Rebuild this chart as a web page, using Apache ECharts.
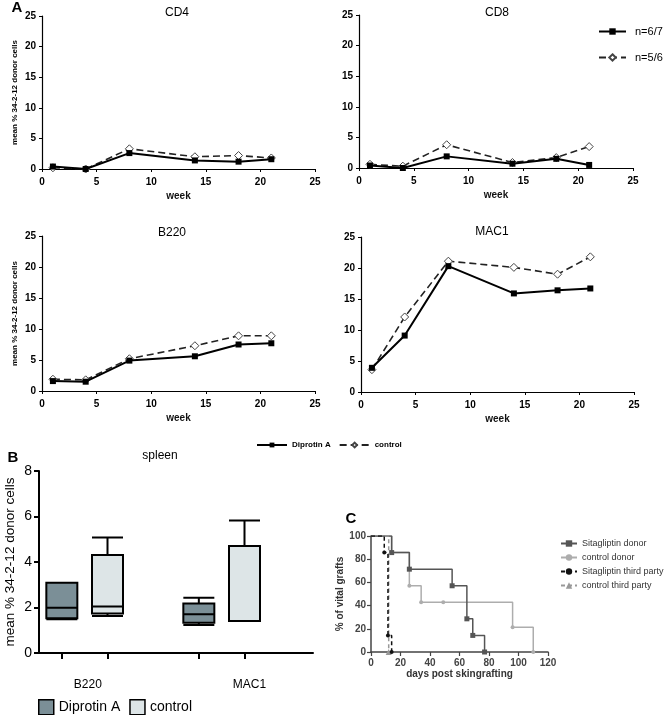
<!DOCTYPE html>
<html><head><meta charset="utf-8">
<script src="https://cdn.jsdelivr.net/npm/echarts@6/dist/echarts.min.js"></script>
<style>html,body{margin:0;padding:0;background:#fff}#c{width:668px;height:715px}</style>
</head><body><div id="c"></div>
<script>
// ---- Panel A data ----
const weeks = [1, 4, 8, 14, 18, 21];
const cd4Dip = [0.4, 0.0, 2.6, 1.4, 1.2, 1.6];
const cd4Ctl = [0.2, 0.0, 3.3, 2.0, 2.2, 1.8];
const cd8Dip = [0.4, 0.0, 1.9, 0.7, 1.5, 0.5];
const cd8Ctl = [0.6, 0.3, 3.8, 0.9, 1.7, 3.5];
const b220Dip = [1.6, 1.5, 4.9, 5.6, 7.5, 7.7];
const b220Ctl = [1.9, 1.8, 5.2, 7.3, 8.9, 8.9];
const mac1Dip = [3.9, 9.1, 20.3, 15.9, 16.4, 16.7];
const mac1Ctl = [3.6, 12.1, 21.1, 20.1, 19.0, 21.8];
const panelTitles = ['CD4', 'CD8', 'B220', 'MAC1'];
// ---- Panel B data (min, Q1, median, Q3, max) ----
const spleenCats = ['B220', 'MAC1'];
const boxDip = [[1.48, 1.53, 1.99, 3.09, 3.09], [1.23, 1.33, 1.70, 2.18, 2.43]];
const boxCtl = [[1.63, 1.74, 2.04, 4.31, 5.08], [1.41, 1.41, 1.41, 4.70, 5.82]];
// ---- Panel C data ([day, % vital grafts]) ----
const sitaDonor = [[0, 100], [14, 85.7], [26, 71.4], [55, 57.1], [65, 28.6], [69, 14.3], [77, 0]];
const ctrlDonor = [[0, 100], [14, 85.7], [26, 57.1], [34, 42.9], [49, 42.9], [96, 21.4], [110, 0]];
const sitaThird = [[0, 100], [9, 85.7], [11.5, 14.3], [14, 0]];
const ctrlThird = [[0, 100], [12, 0]];

const FONT = 'Liberation Sans, Arial, sans-serif';
const chart = echarts.init(document.getElementById('c'), null, {renderer: 'canvas'});

const gridsA = [
  {left: 42, top: 16, width: 273, height: 153},
  {left: 359, top: 15, width: 274, height: 153},
  {left: 42, top: 236, width: 273, height: 155},
  {left: 361, top: 237, width: 273, height: 155}
];
const dataA = [[cd4Dip, cd4Ctl], [cd8Dip, cd8Ctl], [b220Dip, b220Ctl], [mac1Dip, mac1Ctl]];

const grid = gridsA.concat([
  {left: 39, top: 471, width: 274, height: 182},
  {left: 371, top: 536, width: 177, height: 116}
]);

const xAxis = [], yAxis = [], series = [];
gridsA.forEach((g, i) => {
  xAxis.push({
    type: 'value', gridIndex: i, min: 0, max: 25, interval: 5,
    name: 'week', nameLocation: 'middle', nameGap: 22,
    nameTextStyle: {fontFamily: FONT, fontSize: 10, fontWeight: 'bold', color: '#111'},
    axisLine: {lineStyle: {color: '#000', width: 1.2}},
    axisTick: {length: 3, lineStyle: {color: '#000'}},
    axisLabel: {fontFamily: FONT, fontSize: 10, fontWeight: 'bold', color: '#000', margin: 8},
    splitLine: {show: false}
  });
  const showName = (i === 0 || i === 2);
  yAxis.push({
    type: 'value', gridIndex: i, min: 0, max: 25, interval: 5,
    name: showName ? 'mean % 34-2-12 donor cells' : '', nameLocation: 'middle', nameGap: 23,
    nameTextStyle: {fontFamily: FONT, fontSize: 8, fontWeight: 'bold', color: '#000'},
    axisLine: {show: true, lineStyle: {color: '#000', width: 1.2}},
    axisTick: {show: true, length: 3, lineStyle: {color: '#000'}},
    axisLabel: {fontFamily: FONT, fontSize: 10, fontWeight: 'bold', color: '#000', margin: 6},
    splitLine: {show: false}
  });
  const names = (i === 1) ? ['n=6/7', 'n=5/6'] : ['Diprotin A', 'control'];
  series.push({
    type: 'line', name: names[0], xAxisIndex: i, yAxisIndex: i,
    data: weeks.map((w, k) => [w, dataA[i][0][k]]),
    symbol: 'rect', symbolSize: 6, z: 3,
    lineStyle: {color: '#000', width: 2},
    itemStyle: {color: '#000'}
  });
  series.push({
    type: 'line', name: names[1], xAxisIndex: i, yAxisIndex: i,
    data: weeks.map((w, k) => [w, dataA[i][1][k]]),
    symbol: 'diamond', symbolSize: 8, z: 2,
    lineStyle: {color: '#222', width: 1.6, type: [7, 4]},
    itemStyle: {color: '#fff', borderColor: '#444', borderWidth: 1}
  });
});

// Panel B: box plot on 6-slot category axis (boxes at slots 0,1,3,4)
const slotCats = ['0', '1', '2', '3', '4', '5'];
const labelSlot = {0: spleenCats[0], 4: spleenCats[1]};
xAxis.push({
  type: 'category', gridIndex: 4, data: slotCats,
  axisLine: {lineStyle: {color: '#000', width: 2}},
  axisTick: {show: true, alignWithLabel: true, length: 6, lineStyle: {color: '#000', width: 2},
    interval: (idx) => idx !== 2 && idx !== 5},
  axisLabel: {interval: 0, margin: 26, color: '#000', fontFamily: FONT, fontSize: 12,
    formatter: (v, idx) => idx === 0 ? '{a|' + labelSlot[0] + '}' : (idx === 4 ? '{b|' + labelSlot[4] + '}' : ''),
    rich: {a: {fontFamily: FONT, fontSize: 12, color: '#000', padding: [0, 0, 0, 52]},
           b: {fontFamily: FONT, fontSize: 12, color: '#000', padding: [0, 0, 0, 10]}}}
});
yAxis.push({
  type: 'value', gridIndex: 4, min: 0, max: 8, interval: 2,
  name: 'mean % 34-2-12 donor cells', nameLocation: 'middle', nameGap: 22,
  nameTextStyle: {fontFamily: FONT, fontSize: 13.5, color: '#000'},
  axisLine: {show: true, lineStyle: {color: '#000', width: 2}},
  axisTick: {show: true, length: 5, lineStyle: {color: '#000', width: 2}},
  axisLabel: {fontFamily: FONT, fontSize: 14, color: '#000', margin: 7},
  splitLine: {show: false}
});
const dipColor = '#7b8f97', ctlColor = '#dde5e7';
series.push({
  type: 'boxplot', name: 'spleen', xAxisIndex: 4, yAxisIndex: 4,
  boxWidth: [31, 31],
  encode: {x: 0, y: [1, 2, 3, 4, 5]},
  data: [
    {value: [0].concat(boxDip[0]), itemStyle: {color: dipColor, borderColor: '#000', borderWidth: 2}},
    {value: [1].concat(boxCtl[0]), itemStyle: {color: ctlColor, borderColor: '#000', borderWidth: 2}},
    {value: [3].concat(boxDip[1]), itemStyle: {color: dipColor, borderColor: '#000', borderWidth: 2}},
    {value: [4].concat(boxCtl[1]), itemStyle: {color: ctlColor, borderColor: '#000', borderWidth: 2}}
  ]
});

// Panel C: survival
xAxis.push({
  type: 'value', gridIndex: 5, min: 0, max: 120, interval: 20,
  name: 'days post skingrafting', nameLocation: 'middle', nameGap: 17,
  nameTextStyle: {fontFamily: FONT, fontSize: 10, fontWeight: 'bold', color: '#333'},
  axisLine: {lineStyle: {color: '#444', width: 1.5}},
  axisTick: {length: 4, lineStyle: {color: '#444', width: 1.2}},
  axisLabel: {fontFamily: FONT, fontSize: 10, fontWeight: 'bold', color: '#444', margin: 6},
  splitLine: {show: false}
});
yAxis.push({
  type: 'value', gridIndex: 5, min: 0, max: 100, interval: 20,
  name: '% of vital grafts', nameLocation: 'middle', nameGap: 24,
  nameTextStyle: {fontFamily: FONT, fontSize: 10, fontWeight: 'bold', color: '#333'},
  axisLine: {show: true, lineStyle: {color: '#444', width: 1.5}},
  axisTick: {show: true, length: 4, lineStyle: {color: '#444', width: 1.2}},
  axisLabel: {fontFamily: FONT, fontSize: 10, fontWeight: 'bold', color: '#444', margin: 5},
  splitLine: {show: false}
});
function surv(name, pts, color, symbol, size, dashed, z) {
  return {
    type: 'line', name: name, xAxisIndex: 5, yAxisIndex: 5, step: 'end', z: z,
    data: pts.map((p, i) => i === 0 ? {value: p, symbol: 'none'} : p),
    symbol: symbol, symbolSize: size,
    lineStyle: {color: color, width: 1.5, type: dashed ? [4, 3] : 'solid'},
    itemStyle: {color: color}
  };
}
series.push(surv('control donor', ctrlDonor, '#adadad', 'circle', 4, false, 3));
series.push(surv('Sitagliptin donor', sitaDonor, '#555', 'rect', 5, false, 4));
series.push(surv('control third party', ctrlThird, '#999', 'triangle', 6, true, 5));
series.push(surv('Sitagliptin third party', sitaThird, '#111', 'circle', 4, true, 6));

const legend = [
  {
    left: 598, top: 26, padding: 0, orient: 'vertical', itemWidth: 27, itemHeight: 8, itemGap: 15,
    data: ['n=6/7', 'n=5/6'], selectedMode: false,
    textStyle: {fontFamily: FONT, fontSize: 11, color: '#000', padding: [0, 0, 0, 4]}
  },
  {
    left: 256, top: 441, padding: 0, orient: 'horizontal', itemWidth: 30, itemHeight: 6, itemGap: 8,
    data: ['Diprotin A', 'control'], selectedMode: false,
    textStyle: {fontFamily: FONT, fontSize: 8, fontWeight: 'bold', color: '#000'}
  },
  {
    left: 38, top: 699, padding: 0, orient: 'horizontal', itemWidth: 15, itemHeight: 15, itemGap: 9,
    selectedMode: false,
    data: [
      {name: 'Diprotin A', icon: 'rect', itemStyle: {color: dipColor, borderColor: '#000', borderWidth: 1.5}},
      {name: 'control', icon: 'rect', itemStyle: {color: ctlColor, borderColor: '#000', borderWidth: 1.5}}
    ],
    textStyle: {fontFamily: FONT, fontSize: 14, color: '#000'}
  },
  {
    left: 560, top: 538, padding: 0, orient: 'vertical', itemWidth: 16, itemHeight: 8, itemGap: 3,
    selectedMode: false,
    data: ['Sitagliptin donor', 'control donor', 'Sitagliptin third party', 'control third party'],
    textStyle: {fontFamily: FONT, fontSize: 9, color: '#333', lineHeight: 11}
  }
];

function txt(x, y, s, size, weight) {
  return {type: 'text', x: x, y: y, z: 100,
    style: {text: s, fontFamily: FONT, fontSize: size, fontWeight: weight || 'normal', fill: '#000',
      align: 'center', verticalAlign: 'middle', textAlign: 'center', textVerticalAlign: 'middle'}};
}
const graphic = [
  txt(17, 8, 'A', 15, 'bold'),
  txt(13, 458, 'B', 15, 'bold'),
  txt(351, 519, 'C', 15, 'bold'),
  txt(177, 13, panelTitles[0], 12),
  txt(497, 13, panelTitles[1], 12),
  txt(172, 233, panelTitles[2], 12),
  txt(492, 232, panelTitles[3], 12),
  txt(160, 456, 'spleen', 12)
];

chart.setOption({
  animation: false,
  backgroundColor: '#fff',
  grid: grid, xAxis: xAxis, yAxis: yAxis, series: series,
  legend: legend, graphic: graphic
});
</script></body></html>
